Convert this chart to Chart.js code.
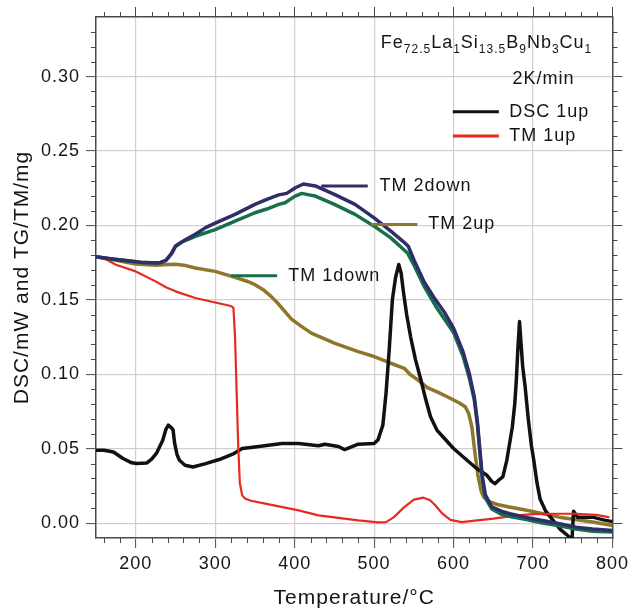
<!DOCTYPE html>
<html><head><meta charset="utf-8">
<script src="https://cdn.jsdelivr.net/npm/chart.js@4/dist/chart.umd.min.js"></script>
<style>html,body{margin:0;padding:0;background:#fff}canvas{display:block}</style>
</head><body>
<canvas id="c" width="634" height="610"></canvas>
<script>
// ---- tick labels ----
const xTicksMajor = [200, 300, 400, 500, 600, 700, 800];
const yTicksMajor = [0, 0.05, 0.10, 0.15, 0.20, 0.25, 0.30];

// ---- DSC 1up (black) ----
const dscT = [150,160,172,184,195,201,214,220,226,234,238,241,245,247,249,252,255,262,272,288,305,322,334,355,384,405,430,438,455,463,480,500,505,511,515,519,523,527,531,534,537,541,546,552,559,565,571,579,590,600,617,629,642,648,652,657,662,667,671,674,677,679,681,683,685,687,690,694,698,701,705,709,716,722,734,745,749,751,756,775,790,800];
const dscV = [0.049,0.049,0.0478,0.0434,0.0405,0.040,0.0404,0.043,0.0468,0.0557,0.063,0.0658,0.064,0.0625,0.0535,0.046,0.0422,0.0389,0.0377,0.040,0.0427,0.0463,0.0501,0.0515,0.0535,0.0535,0.052,0.053,0.0515,0.0494,0.053,0.0535,0.056,0.0658,0.0872,0.1164,0.150,0.165,0.1737,0.168,0.155,0.14,0.125,0.11,0.096,0.083,0.0714,0.0625,0.056,0.0501,0.0422,0.0367,0.0321,0.028,0.0265,0.029,0.031,0.0422,0.055,0.0647,0.08,0.096,0.118,0.1354,0.12,0.105,0.092,0.07,0.052,0.042,0.027,0.016,0.008,0.004,-0.004,-0.009,-0.012,0.008,0.004,0.004,0.002,0.001];

// ---- TM 1up (red) ----
const redT = [150,163,175,200,225,238,250,275,300,317,321,323,325,327,329,331,334,338,345,363,405,430,480,505,515,525,538,550,562,570,577,586,596,610,650,680,700,733,754,780,795];
const redV = [0.1795,0.177,0.1736,0.1691,0.1624,0.1585,0.1557,0.1512,0.1482,0.1462,0.1455,0.1445,0.125,0.088,0.052,0.027,0.0185,0.0164,0.015,0.0131,0.0086,0.0052,0.0018,0.0005,0.0007,0.004,0.0108,0.0158,0.0171,0.0155,0.012,0.0063,0.0022,0.0007,0.003,0.0052,0.006,0.0063,0.0063,0.0055,0.004];

// ---- TM 2up (olive) ----
const oliveT = [150,175,200,225,240,250,263,275,300,325,340,350,360,370,380,396,409,421,450,480,500,521,538,545,555,567,580,592,608,615,619,623,627,631,635,638,645,655,670,692,733,775,800];
const oliveV = [0.179,0.1765,0.174,0.1732,0.1737,0.1739,0.173,0.1714,0.1691,0.1651,0.1625,0.1602,0.157,0.1525,0.147,0.137,0.132,0.1276,0.1209,0.1152,0.1119,0.1074,0.104,0.100,0.0962,0.091,0.088,0.0849,0.0805,0.078,0.0737,0.0647,0.0468,0.031,0.021,0.0175,0.0145,0.0125,0.0108,0.0086,0.004,0.0007,-0.0016];

// ---- TM 1down (green) ----
const greenT = [150,170,190,210,230,238,245,250,257,263,275,300,325,350,365,380,388,400,409,418,426,450,476,500,521,542,550,563,579,600,612,620,626,630,633,636,640,648,660,671,690,712,735,754,775,800];
const greenV = [0.179,0.1775,0.1762,0.175,0.1748,0.1765,0.181,0.186,0.1885,0.19,0.1927,0.1972,0.2028,0.2085,0.211,0.2141,0.2152,0.2195,0.2215,0.2205,0.2197,0.2141,0.2074,0.1995,0.1916,0.1815,0.1735,0.159,0.1445,0.128,0.112,0.097,0.083,0.066,0.048,0.030,0.017,0.0095,0.006,0.0045,0.0025,0.0,-0.002,-0.004,-0.0055,-0.006];

// ---- TM 2down (navy) ----
const navyT = [150,170,190,210,230,238,245,250,257,263,275,288,300,325,350,365,380,390,401,411,426,450,476,500,521,536,543,550,563,576,588,600,612,620,626,630,633,636,640,648,660,671,690,712,735,754,775,800];
const navyV = [0.179,0.1775,0.1762,0.175,0.1748,0.1765,0.181,0.186,0.1885,0.1905,0.194,0.1985,0.2015,0.2074,0.2141,0.2175,0.2205,0.2215,0.2253,0.2278,0.2265,0.2208,0.2141,0.2051,0.1961,0.1895,0.186,0.177,0.162,0.151,0.142,0.131,0.115,0.100,0.085,0.068,0.05,0.032,0.019,0.011,0.008,0.0063,0.004,0.0018,-0.0005,-0.0027,-0.004,-0.005];

const COLORS = {dsc:'#111111', red:'#e62a1e', olive:'#8c772a', green:'#16704a', navy:'#2f2d6a'};
const FONT = 'Liberation Sans, Arial, sans-serif';
const AXIS = '#4a4a4a';
const GRID = '#d8cdcd';

function pts(t, v) { return t.map((x, i) => ({x: x, y: v[i]})); }

const spacingPlugin = {
  id: 'spacing',
  beforeLayout(c) { c.ctx.letterSpacing = '1px'; },
  beforeDraw(c) { c.ctx.letterSpacing = '1px'; }
};

const minorTicks = {
  id: 'minorTicks',
  afterDraw(c) {
    const ctx = c.ctx, a = c.chartArea, xs = c.scales.x, ys = c.scales.y;
    ctx.save();
    ctx.strokeStyle = AXIS; ctx.lineWidth = 1;
    ctx.beginPath();
    for (let v = 160; v < 800; v += 20) {
      if (v % 100 === 0) continue;
      const px = Math.round(xs.getPixelForValue(v)) + 0.5;
      ctx.moveTo(px, a.bottom); ctx.lineTo(px, a.bottom + 5);
      ctx.moveTo(px, a.top); ctx.lineTo(px, a.top - 5);
    }
    for (let k = 1; k <= 33; k++) {
      if (k % 5 === 0) continue;
      const py = Math.round(ys.getPixelForValue(k / 100)) + 0.5;
      ctx.moveTo(a.left, py); ctx.lineTo(a.left - 5, py);
      ctx.moveTo(a.right, py); ctx.lineTo(a.right + 5, py);
    }
    ctx.stroke();
    ctx.restore();
  }
};

const keyItems = [
  {label:'DSC 1up', color:COLORS.dsc, x0:599, x1:657, y:0.2763, tx:670},
  {label:'TM 1up', color:COLORS.red, x0:599, x1:657, y:0.2601, tx:670},
  {label:'TM 2down', color:COLORS.navy, x0:433.5, x1:492, y:0.2264, tx:506.7},
  {label:'TM 2up', color:COLORS.olive, x0:496, x1:554.5, y:0.2006, tx:568},
  {label:'TM 1down', color:COLORS.green, x0:320, x1:378, y:0.1662, tx:392}
];
const formulaParts = [['Fe',0],['72.5',1],['La',0],['1',1],['Si',0],['13.5',1],['B',0],['9',1],['Nb',0],['3',1],['Cu',0],['1',1]];

const annotations = {
  id: 'annotations',
  afterDatasetsDraw(c) {
    const ctx = c.ctx, xs = c.scales.x, ys = c.scales.y;
    ctx.save();
    ctx.letterSpacing = '1px';
    ctx.textBaseline = 'middle';
    ctx.textAlign = 'left';
    for (const k of keyItems) {
      const py = ys.getPixelForValue(k.y);
      ctx.strokeStyle = k.color; ctx.lineWidth = 3;
      ctx.beginPath();
      ctx.moveTo(xs.getPixelForValue(k.x0), py);
      ctx.lineTo(xs.getPixelForValue(k.x1), py);
      ctx.stroke();
      ctx.fillStyle = '#151515';
      ctx.font = '18px ' + FONT;
      ctx.fillText(k.label, xs.getPixelForValue(k.tx), py);
    }
    // formula
    let fx = xs.getPixelForValue(508.4);
    const fy = ys.getPixelForValue(0.3232);
    ctx.textBaseline = 'alphabetic';
    for (const [s, sub] of formulaParts) {
      ctx.font = (sub ? '12px ' : '18px ') + FONT;
      ctx.fillText(s, fx, fy + 6 + (sub ? 5 : 0));
      fx += ctx.measureText(s).width;
    }
    ctx.textBaseline = 'middle';
    ctx.font = '18px ' + FONT;
    ctx.fillText('2K/min', xs.getPixelForValue(674.2), ys.getPixelForValue(0.2983));
    ctx.restore();
  }
};

const tickFont = {family: FONT, size: 18};
const titleFont = {family: FONT, size: 21};

new Chart(document.getElementById('c'), {
  type: 'line',
  data: {
    datasets: [
      {label:'TM 2down', data: pts(navyT, navyV), borderColor: COLORS.navy, borderWidth: 3.5, order: 0},
      {label:'TM 1down', data: pts(greenT, greenV), borderColor: COLORS.green, borderWidth: 3.5, order: 1},
      {label:'TM 1up', data: pts(redT, redV), borderColor: COLORS.red, borderWidth: 2.2, order: 2},
      {label:'DSC 1up', data: pts(dscT, dscV), borderColor: COLORS.dsc, borderWidth: 3.5, order: 3},
      {label:'TM 2up', data: pts(oliveT, oliveV), borderColor: COLORS.olive, borderWidth: 3.5, order: 4}
    ].map(d => Object.assign(d, {pointRadius: 0, tension: 0, fill: false, clip: 0, borderJoinStyle: 'round', borderCapStyle: 'round'}))
  },
  options: {
    responsive: false,
    animation: false,
    events: [],
    layout: {padding: 0},
    plugins: {legend: {display: false}, tooltip: {enabled: false}},
    scales: {
      x: {
        type: 'linear', position: 'bottom', min: 150, max: 800,
        afterBuildTicks(s) { s.ticks = xTicksMajor.map(v => ({value: v})); },
        afterFit(s) { s.height = 72; },
        ticks: {font: tickFont, color: '#151515', padding: 5, autoSkip: false, maxRotation: 0, callback: v => String(v)},
        grid: {color: GRID, lineWidth: 1.2, tickColor: AXIS, tickLength: 10, tickWidth: 1},
        border: {color: AXIS, width: 1.5},
        title: {display: true, text: 'Temperature/°C', font: titleFont, color: '#151515', padding: {top: 0, bottom: -1}}
      },
      x2: {
        type: 'linear', position: 'top', min: 150, max: 800,
        afterBuildTicks(s) { s.ticks = xTicksMajor.map(v => ({value: v})); },
        afterFit(s) { s.height = 17; },
        ticks: {display: false},
        grid: {drawOnChartArea: false, tickColor: AXIS, tickLength: 10, tickWidth: 1},
        border: {color: AXIS, width: 1.5}
      },
      y: {
        type: 'linear', position: 'left', min: -0.01, max: 0.34,
        afterBuildTicks(s) { s.ticks = yTicksMajor.map(v => ({value: v})); },
        afterFit(s) { s.width = 96; },
        ticks: {font: tickFont, color: '#151515', padding: 6, callback: v => v.toFixed(2)},
        grid: {color: GRID, lineWidth: 1.2, tickColor: AXIS, tickLength: 10, tickWidth: 1},
        border: {color: AXIS, width: 1.5},
        title: {display: true, text: 'DSC/mW and TG/TM/mg', font: titleFont, color: '#151515', padding: {top: 10, bottom: 0}}
      },
      y2: {
        type: 'linear', position: 'right', min: -0.01, max: 0.34,
        afterBuildTicks(s) { s.ticks = yTicksMajor.map(v => ({value: v})); },
        afterFit(s) { s.width = 17; },
        ticks: {display: false},
        grid: {drawOnChartArea: false, tickColor: AXIS, tickLength: 10, tickWidth: 1},
        border: {color: AXIS, width: 1.5}
      }
    }
  },
  plugins: [spacingPlugin, minorTicks, annotations]
});
</script>
</body></html>
